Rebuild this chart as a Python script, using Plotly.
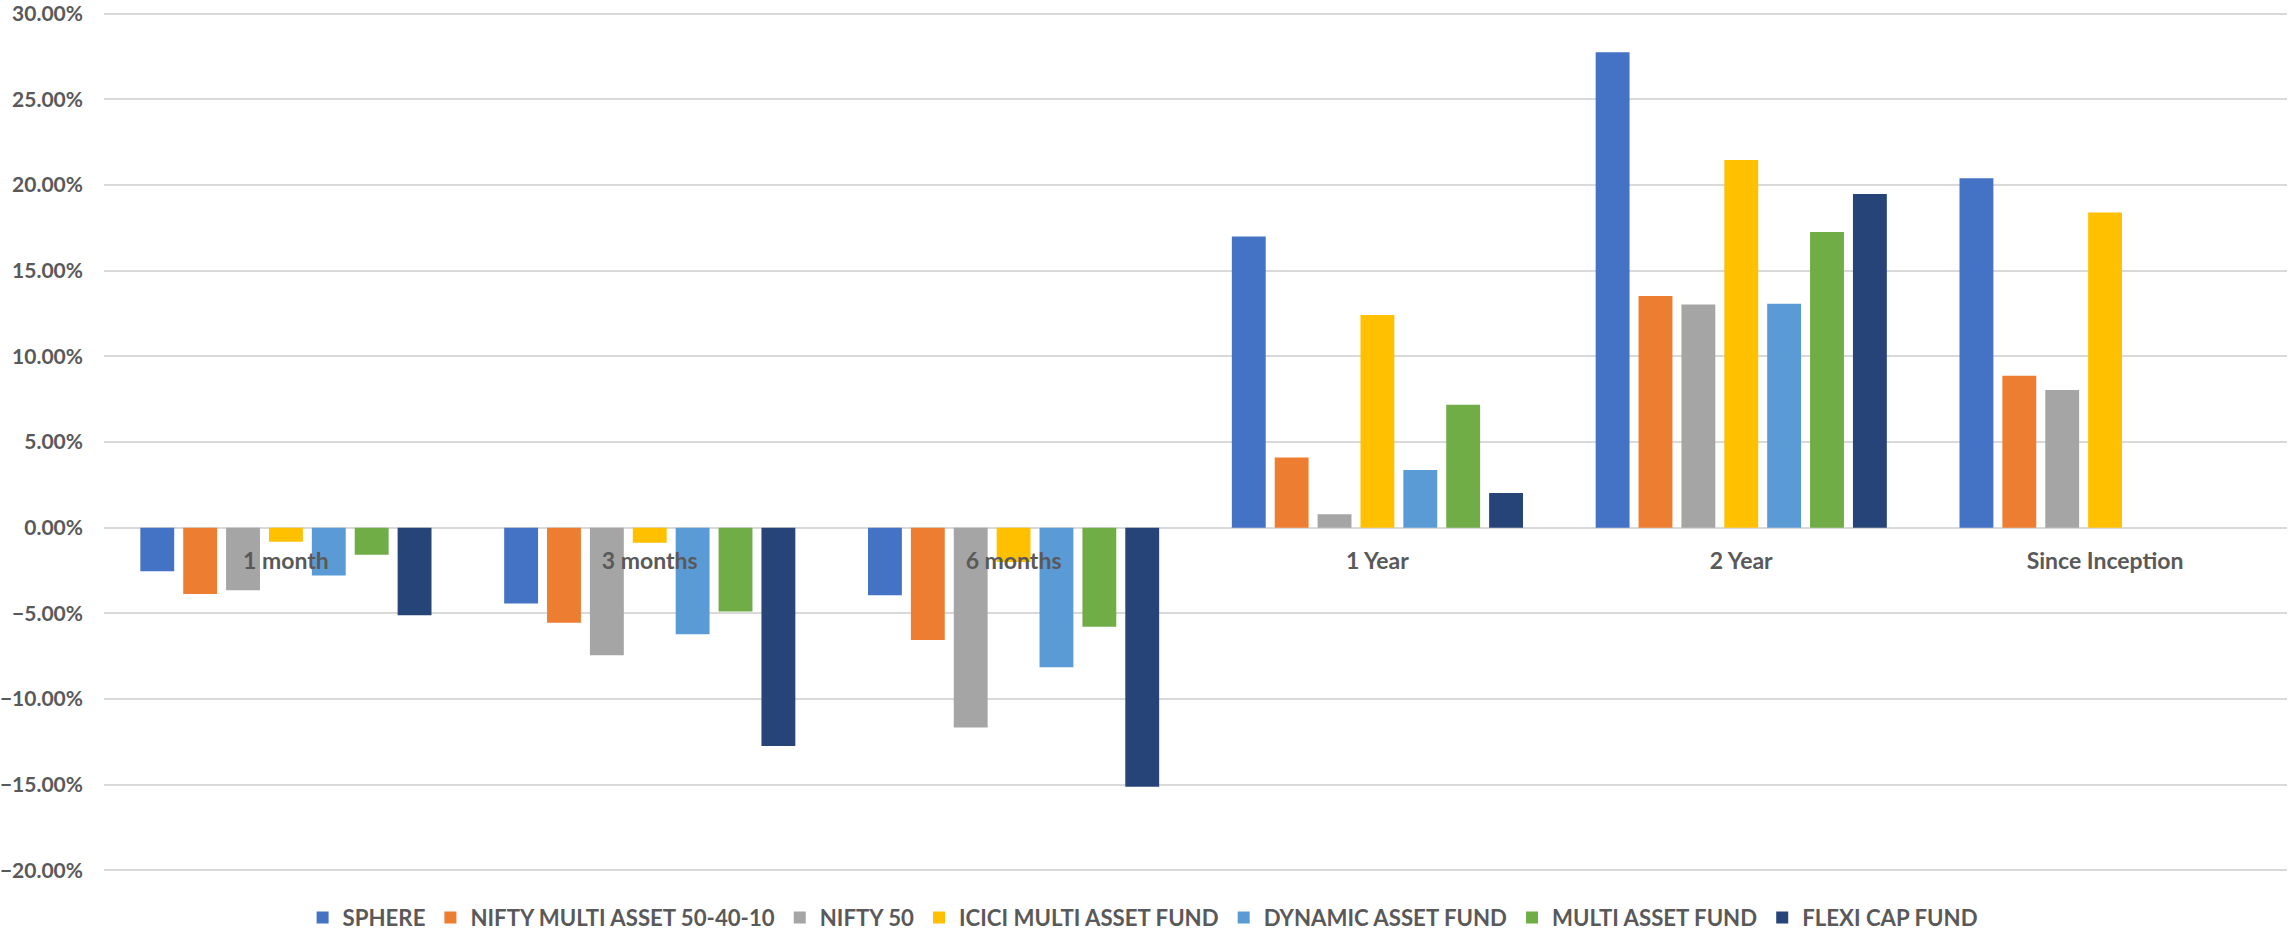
import plotly.graph_objects as go

categories = ["1 month", "3 months", "6 months", "1 Year", "2 Year", "Since Inception"]

sphere = [-0.0255, -0.0442, -0.0395, 0.1700, 0.2775, 0.2039]
nifty_multi = [-0.0387, -0.0555, -0.0656, 0.0410, 0.1352, 0.0886]
nifty_50 = [-0.0366, -0.0745, -0.1167, 0.0078, 0.1303, 0.0803]
icici_multi = [-0.0082, -0.0088, -0.0200, 0.1242, 0.2146, 0.1840]
dynamic_asset = [-0.0279, -0.0622, -0.0815, 0.0337, 0.1307, None]
multi_asset = [-0.0158, -0.0489, -0.0578, 0.0718, 0.1726, None]
flexi_cap = [-0.0511, -0.1275, -0.1512, 0.0203, 0.1947, None]

series_names = ["SPHERE", "NIFTY MULTI ASSET 50-40-10", "NIFTY 50", "ICICI MULTI ASSET FUND",
                "DYNAMIC ASSET FUND", "MULTI ASSET FUND", "FLEXI CAP FUND"]
series_values = [sphere, nifty_multi, nifty_50, icici_multi, dynamic_asset, multi_asset, flexi_cap]
colors = ["#4472C4", "#ED7D31", "#A5A5A5", "#FFC000", "#5B9BD5", "#70AD47", "#264478"]

y_ticks = [-0.20, -0.15, -0.10, -0.05, 0.0, 0.05, 0.10, 0.15, 0.20, 0.25, 0.30]

FONT = "Lato, 'Open Sans', sans-serif"
TXT = "#595959"

fig = go.Figure()
for name, vals, col in zip(series_names, series_values, colors):
    fig.add_trace(go.Bar(x=categories, y=vals, name=name, marker=dict(color=col, line=dict(width=0))))

fig.update_layout(
    width=2289, height=932,
    margin=dict(l=104, r=2, t=12, b=60, autoexpand=False),
    plot_bgcolor="white", paper_bgcolor="white",
    barmode="group", bargap=0.175, bargroupgap=0.21,
    font=dict(family=FONT, size=22, color=TXT),
    showlegend=True,
    legend=dict(orientation="h", x=0.476, xanchor="center", y=-0.053, yanchor="middle",
                font=dict(family=FONT, size=22.2, color=TXT, weight="bold"),
                itemwidth=30, traceorder="normal"),
    xaxis=dict(anchor="free", position=0.4, showline=False, ticks="", showgrid=False,
               tickfont=dict(family=FONT, size=23, color=TXT, weight="bold"),
               ticklabelstandoff=17, zeroline=False, automargin=False),
    yaxis=dict(range=[-0.201, 0.301], tickvals=y_ticks, tickformat=".2%",
               showgrid=True, gridcolor="#D9D9D9", gridwidth=1.5,
               zeroline=True, zerolinecolor="#D9D9D9", zerolinewidth=1.5,
               showline=False, ticks="", ticklabelstandoff=20, automargin=False,
               ticklabeloverflow="allow",
               tickfont=dict(family=FONT, size=21, color=TXT, weight="bold")),
)

fig.write_html("out.html", config={"displayModeBar": False},
               post_script="document.body.style.margin='0';")
